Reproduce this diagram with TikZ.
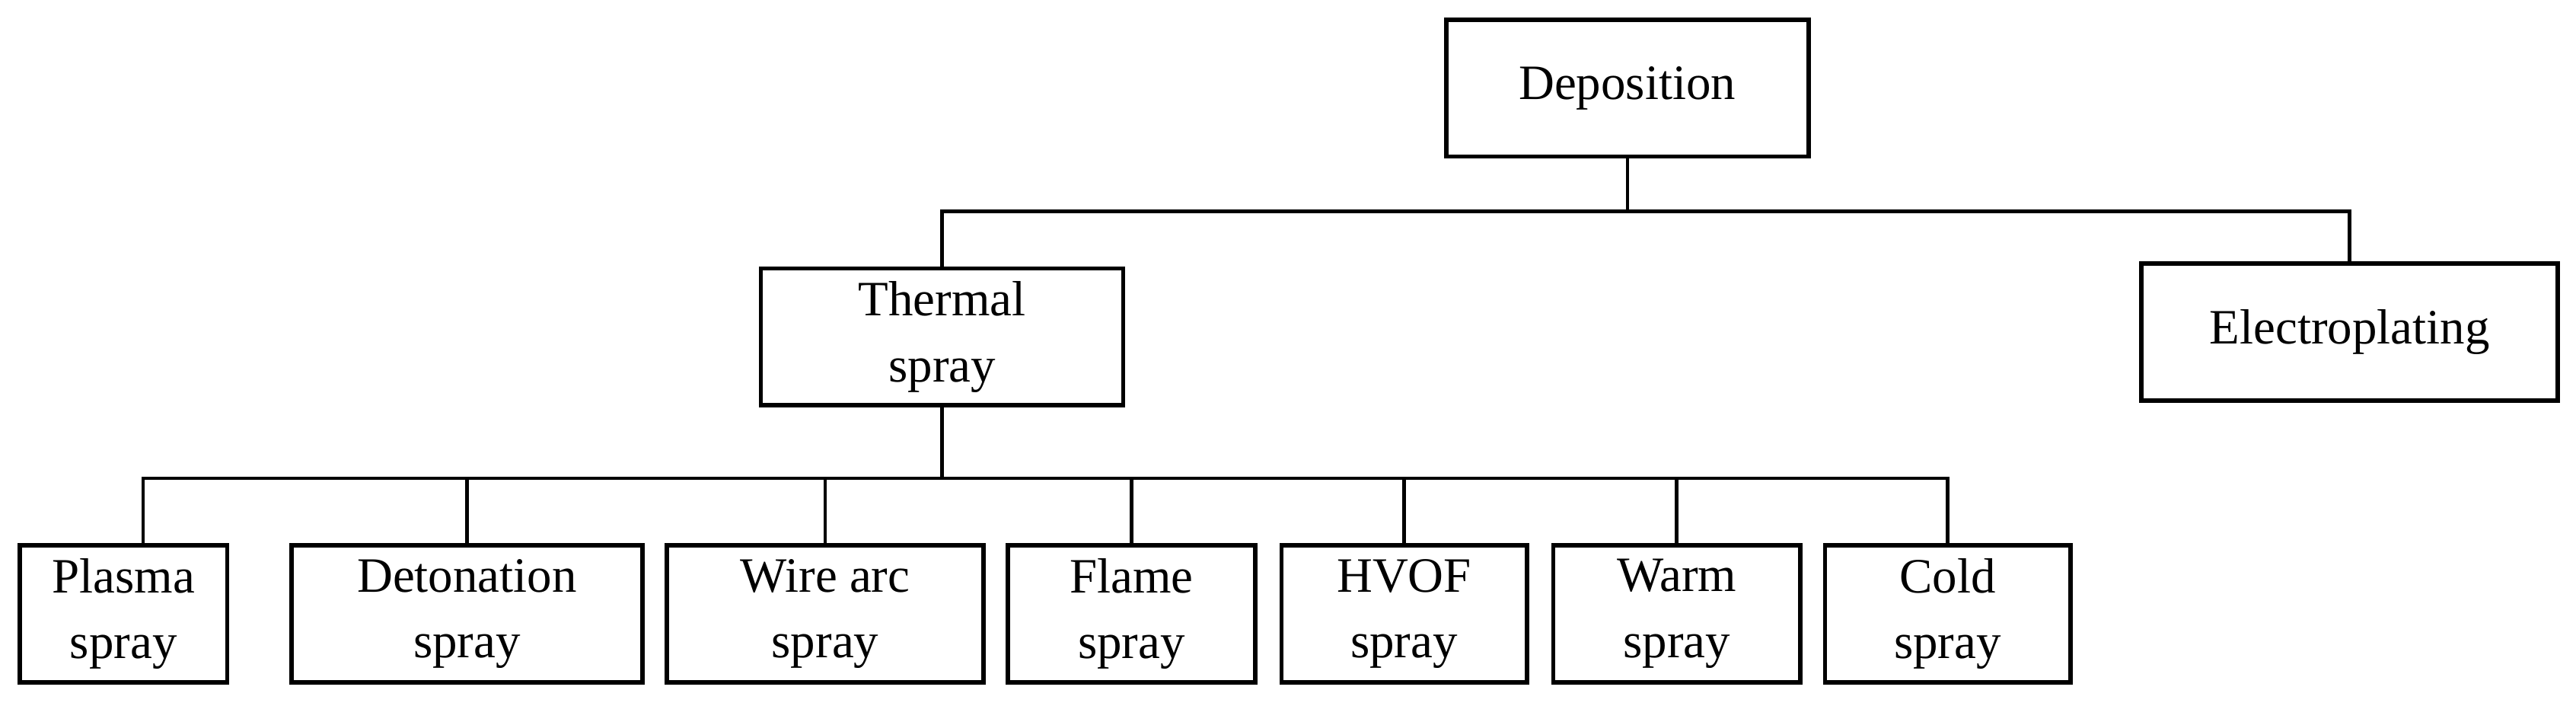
\documentclass[tikz,border=0pt]{standalone}
\usepackage{fontspec}
\setmainfont{Liberation Serif}
\begin{document}
\begin{tikzpicture}[x=1pt,y=-1pt,
  box/.style={draw,line width=2.6pt,inner sep=0pt,align=center,font=\fontsize{30}{40}\selectfont},
  ln/.style={line width=2pt}]
\useasboundingbox (0,0) rectangle (1564,428);
\newcommand\bx[6]{\node[box,minimum width={#4-#3},minimum height={#6-#5}] (#1) at ({(#3+#4)/2},{(#5+#6)/2}) {#2};}
\bx{dep}{Deposition}{878}{1098}{12}{95}
\bx{th}{Thermal\\spray}{462}{682}{163}{246}
\bx{el}{Electroplating}{1300}{1553}{160}{243}
\bx{p}{Plasma\\spray}{12}{138}{331}{414}
\bx{d}{Detonation\\spray}{177}{390}{331}{414}
\bx{w}{Wire arc\\spray}{405}{597}{331}{414}
\bx{f}{Flame\\spray}{612}{762}{331}{414}
\bx{h}{HVOF\\spray}{778}{927}{331}{414}
\bx{wa}{Warm\\spray}{943}{1093}{331}{414}
\bx{c}{Cold\\spray}{1108}{1257}{331}{414}
\draw[ln] (dep.south) -- ++(0,32) coordinate (j1);
\draw[ln] (th.north) |- (j1) -| (el.north);
\draw[ln] (th.south) -- ++(0,43) coordinate (j2);
\draw[ln] ([xshift=12pt]p.north) |- (j2);
\foreach \n in {d,w,f,h,wa,c} \draw[ln] (\n.north) |- (j2);
\end{tikzpicture}
\end{document}
